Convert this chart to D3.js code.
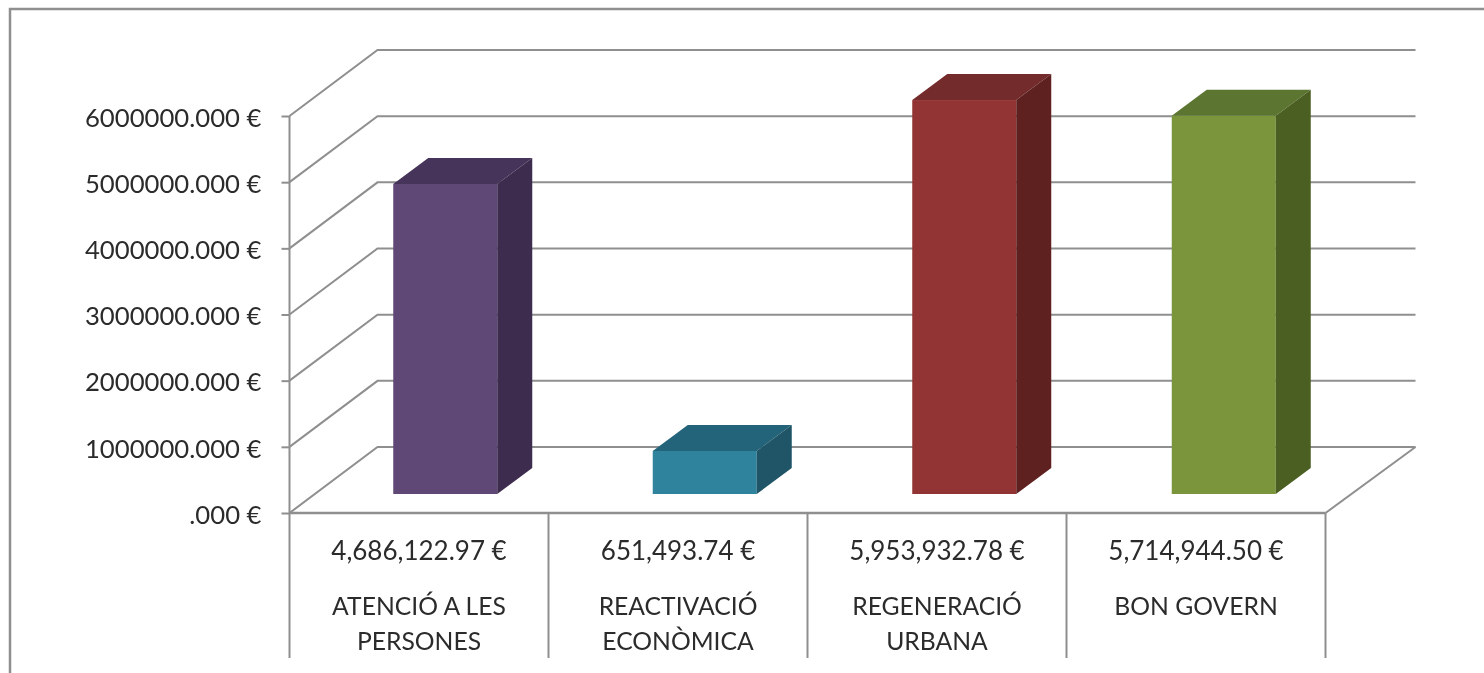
<!DOCTYPE html>
<html>
<head>
<meta charset="utf-8">
<script src="https://cdn.jsdelivr.net/npm/d3@7"></script>
<style>
    html, body { margin: 0; padding: 0; background: #fff; overflow: hidden; }
    svg { filter: blur(0.5px); }
    text { font-family: Lato, "Open Sans", sans-serif; fill: #2b2b2b; }
</style>
</head>
<body>
<div id="chart"></div>
<script>
const categories = ["ATENCIÓ A LES PERSONES", "REACTIVACIÓ ECONÒMICA", "REGENERACIÓ URBANA", "BON GOVERN"];
const values = [4686122.97, 651493.74, 5953932.78, 5714944.50];
const yTicks = [0, 1000000, 2000000, 3000000, 4000000, 5000000, 6000000];

const frontColors = ["#5f4876", "#2f839c", "#933434", "#7a953c"];
const topColors = ["#46345a", "#24647a", "#742b2b", "#5c7530"];
const sideColors = ["#3e2c4e", "#1f5567", "#5f2020", "#4b5f22"];

const width = 1484, height = 673;
const gridColor = "#8f8f8f";

// floor depth of the box, and where the bars stand inside it
const wallDx = 88, wallDy = 66;
const barDy = 19;
const barDepthX = 35, barDepthY = 26;
const barWidth = 104;
const tableBottom = 658;

const svg = d3.select("#chart")
    .append("svg")
    .attr("width", width)
    .attr("height", height);

// outer frame, only top and left are inside the picture
svg.append("path")
    .attr("d", d3.line()([[10, height], [10, 9], [width, 9]]))
    .attr("fill", "none")
    .attr("stroke", gridColor)
    .attr("stroke-width", 2.5);

const x = d3.scaleBand()
    .domain(categories)
    .range([289.5, 1325.5]);

// bars sit further back in the box, so their band is shifted and a bit wider
const xBar = d3.scaleBand()
    .domain(categories)
    .range([315.5, 1353.5]);

const y = d3.scaleLinear()
    .domain([0, 6000000])
    .range([513, 116]);

const left = x.range()[0];
const right = x.range()[1];
const line = d3.line();

const grid = svg.append("g")
    .attr("fill", "none")
    .attr("stroke", gridColor)
    .attr("stroke-width", 2);

// back wall and side wall lines
yTicks.forEach(t => {
    grid.append("path")
        .attr("d", line([
            [left, y(t)],
            [left + wallDx, y(t) - wallDy],
            [right + wallDx + 2, y(t) - wallDy]
        ]));
});

// right edge of the floor
grid.append("path")
    .attr("d", line([[right + wallDx + 2, y(0) - wallDy], [right, y(0)]]));

// table rows under the axis
grid.append("path")
    .attr("stroke-width", 2.5)
    .attr("d", line([[left, y(0)], [right, y(0)]]));

categories.concat([null]).forEach((c, i) => {
    const vx = c === null ? right : x(c);
    grid.append("path")
        .attr("d", line([[vx, i === 0 ? y(6000000) : y(0)], [vx, tableBottom]]));
});

// y axis
const yAxis = svg.append("g")
    .attr("transform", `translate(${left},0)`)
    .call(d3.axisLeft(y)
        .tickValues(yTicks)
        .tickSize(8)
        .tickSizeOuter(0)
        .tickPadding(20)
        .tickFormat(d => d3.format(".3f")(d).replace(/^0/, "") + " €"));

yAxis.select(".domain").remove();
yAxis.selectAll("line").attr("stroke", gridColor).attr("stroke-width", 2);
yAxis.selectAll("text")
    .attr("font-size", 25.7)
    .attr("dy", "0.40em")
    .style("font-family", "Lato, 'Open Sans', sans-serif")
    .attr("fill", "#2b2b2b");

// bars
const bars = svg.selectAll("g.bar")
    .data(categories)
    .join("g")
    .attr("class", "bar");

const barLeft = d => xBar(d) + (xBar.bandwidth() - barWidth) / 2;
const barTop = (d, i) => y(values[i]) - barDy;
const barBase = y(0) - barDy;

bars.append("rect")
    .attr("x", barLeft)
    .attr("y", barTop)
    .attr("width", barWidth)
    .attr("height", (d, i) => barBase - barTop(d, i))
    .attr("fill", (d, i) => frontColors[i]);

bars.append("path")
    .attr("fill", (d, i) => topColors[i])
    .attr("d", (d, i) => {
        const x0 = barLeft(d), y0 = barTop(d, i);
        return line([
            [x0, y0],
            [x0 + barDepthX, y0 - barDepthY],
            [x0 + barWidth + barDepthX, y0 - barDepthY],
            [x0 + barWidth, y0]
        ]) + "Z";
    });

bars.append("path")
    .attr("fill", (d, i) => sideColors[i])
    .attr("d", (d, i) => {
        const x0 = barLeft(d) + barWidth, y0 = barTop(d, i);
        return line([
            [x0, y0],
            [x0 + barDepthX, y0 - barDepthY],
            [x0 + barDepthX, barBase - barDepthY],
            [x0, barBase]
        ]) + "Z";
    });

// data table text
const cells = svg.selectAll("g.cell")
    .data(categories)
    .join("g")
    .attr("class", "cell")
    .attr("transform", d => `translate(${x(d) + x.bandwidth() / 2},0)`)
    .attr("text-anchor", "middle");

cells.append("text")
    .attr("y", 560)
    .attr("font-size", 26)
    .text((d, i) => d3.format(",.2f")(values[i]) + " €");

cells.append("text")
    .attr("y", 615)
    .attr("font-size", 24.7)
    .each(function (d) {
        // wrap the names to the width of the cell
        const el = d3.select(this);
        let tspan = el.append("tspan").attr("x", 0);
        let row = [];
        let lineNo = 0;
        d.split(" ").forEach(word => {
            row.push(word);
            tspan.text(row.join(" "));
            if (tspan.node().getComputedTextLength() > 200 && row.length > 1) {
                row.pop();
                tspan.text(row.join(" "));
                row = [word];
                lineNo++;
                tspan = el.append("tspan").attr("x", 0).attr("y", 615 + lineNo * 35).text(word);
            }
        });
    });
</script>
</body>
</html>
